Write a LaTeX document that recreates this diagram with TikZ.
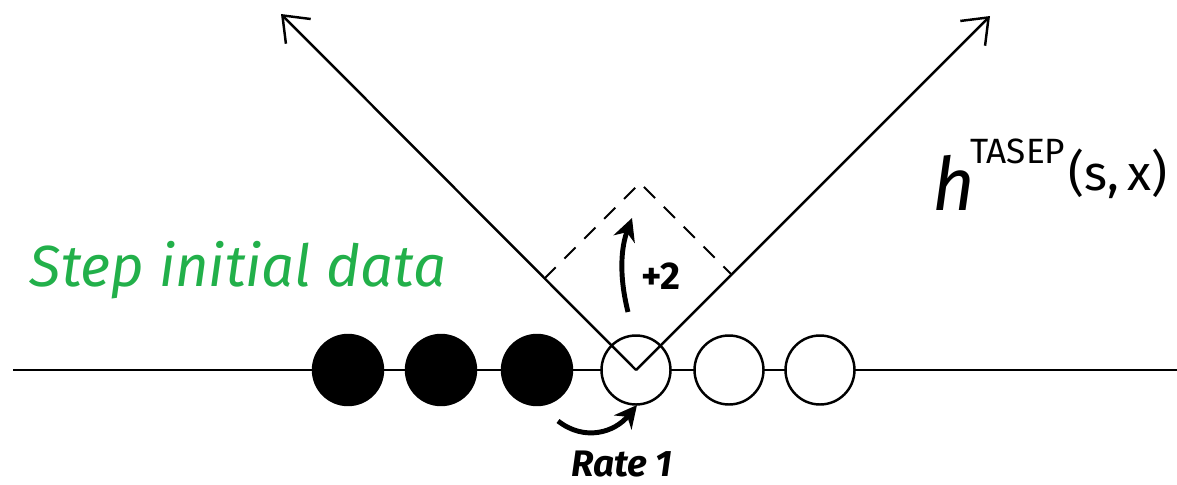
\documentclass[tikz,border=0pt]{standalone}
\usepackage{fontspec}
\setmainfont{Fira Sans}
\usetikzlibrary{arrows.meta,calc}
\definecolor{stepgreen}{RGB}{34,176,74}

\begin{document}
\begin{tikzpicture}[x=0.02cm, y=-0.02cm,
  dot/.style={circle, draw, fill=black, minimum width=1.4cm, minimum height=1.35cm, inner sep=0pt, line width=1.4pt},
  hole/.style={circle, draw, fill=white, minimum width=1.38cm, minimum height=1.38cm, inner sep=0pt, line width=1.4pt},
  arm/.style={line width=1.4pt, -{Straight Barb[length=4.5mm, width=7mm, line width=1.4pt]}},
  bump/.style={dashed, dash pattern=on 9pt off 7pt, line width=1.1pt},
  jump/.style={line width=2.8pt, -{Stealth[length=4.5mm, width=4.5mm]}},
  label/.style={font=\itshape, inner sep=0pt},
]
\useasboundingbox (0,0) rectangle (1177,484);

% axis
\coordinate (west) at (13,370);
\coordinate (east) at (1177,370);
\draw[line width=1.4pt] (west) -- (east);

% particles and holes
\node[dot] (p1) at (348,370) {};
\node[dot] (p2) at (441,370) {};
\node[dot] (p3) at (537,370) {};
\node[hole] (p4) at (636,370) {};
\node[hole] (p5) at (729,370) {};
\node[hole] (p6) at (820,370) {};

% height function
\coordinate (ltip) at (281,14);
\coordinate (rtip) at (990,16);
\draw[arm] (p4.center) -- (ltip);
\draw[arm] (p4.center) -- (rtip);

% local maximum after the jump
\coordinate (apex) at (640,183);
\coordinate (lfoot) at (544.5,278.5);
\coordinate (rfoot) at (731.5,274.5);
\draw[bump] (lfoot) -- (apex) -- (rfoot);

\draw[jump] (628,312) .. controls (618,272) and (622,245) .. (632,218);
\node[font=\fontsize{22}{24}\selectfont\bfseries, inner sep=0pt] (plus) at (661,276) {+2};

\draw[jump] (558,421) .. controls (585,442) and (615,432) .. (637,405);
\node[label, font=\fontsize{21}{23}\selectfont\bfseries\itshape] (rate) at (622,464) {Rate 1};

\node[label, text=stepgreen, font=\fontsize{33}{36}\selectfont\itshape] (step) at (238,270) {Step initial data};

\node[inner sep=0pt, font=\fontsize{42}{46}\selectfont\itshape, anchor=base west] (hh) at (932,210) {h};
\node[inner sep=0pt, font=\fontsize{20}{22}\selectfont, anchor=base west] (tasep) at (970,163) {TASEP};
\node[inner sep=0pt, font=\fontsize{28}{30}\selectfont, anchor=base west] (args) at (1068,190) {(s,\,x)};
\end{tikzpicture}
\end{document}
